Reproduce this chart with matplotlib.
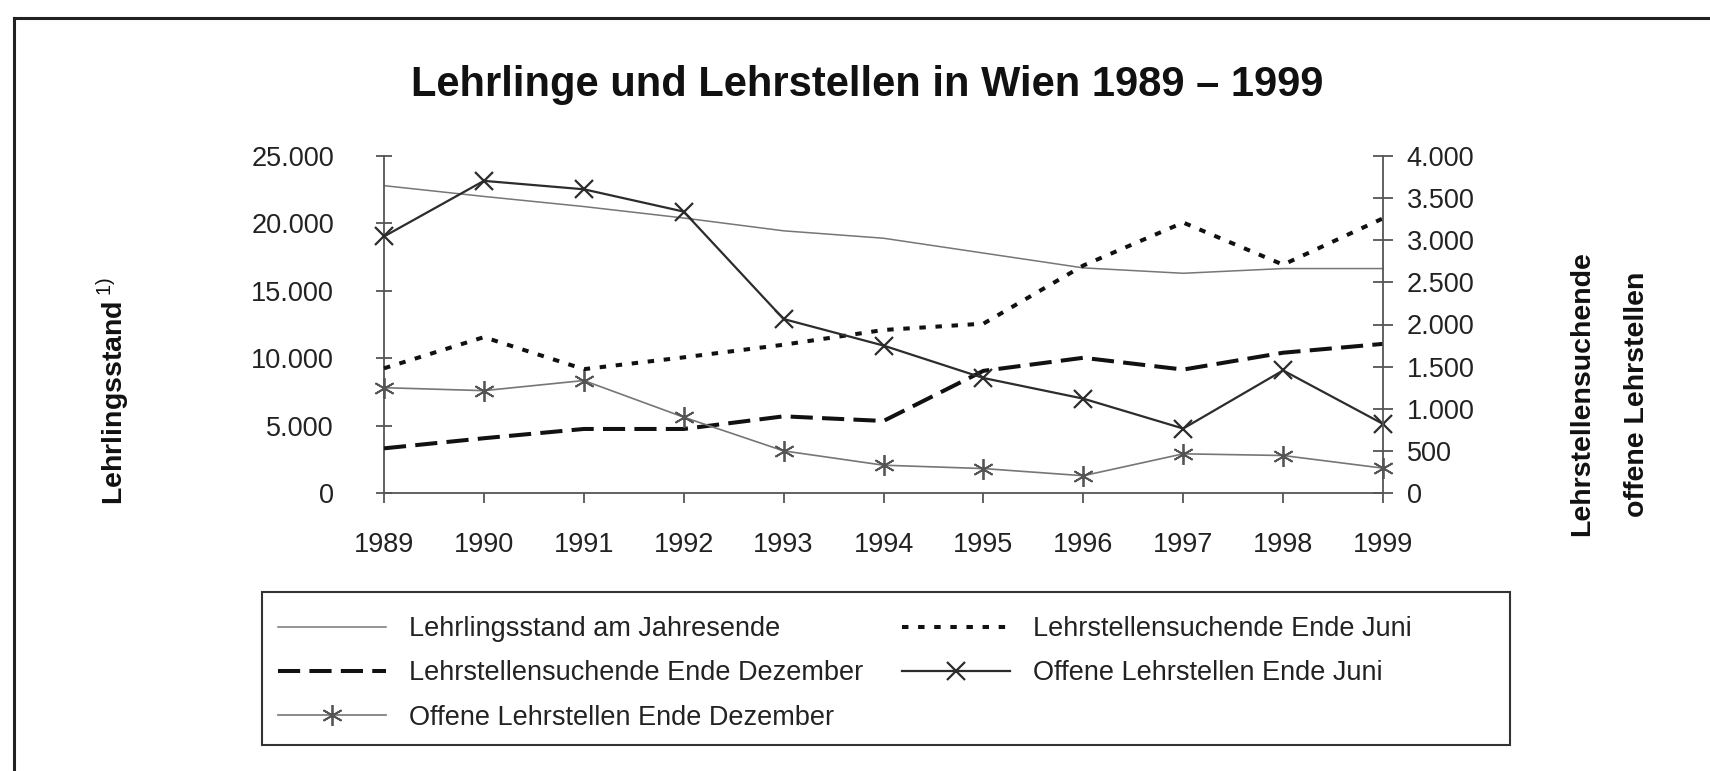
import matplotlib

matplotlib.use("Agg")
import matplotlib.pyplot as plt
from matplotlib.lines import Line2D
from matplotlib.patches import Rectangle
from matplotlib.ticker import FuncFormatter, MultipleLocator

plt.rcParams["font.family"] = ["Liberation Sans", "DejaVu Sans"]
plt.rcParams["mathtext.fontset"] = "custom"
plt.rcParams["mathtext.rm"] = "Liberation Sans"

years = list(range(1989, 2000))
lehrlingsstand = [22800, 22000, 21250, 20400, 19450, 18900, 17800, 16700, 16300, 16650, 16650]
suchende_juni = [1480, 1850, 1470, 1610, 1760, 1935, 2010, 2700, 3210, 2710, 3260]
suchende_dez = [530, 650, 760, 760, 910, 855, 1450, 1605, 1465, 1665, 1770]
offene_juni = [3045, 3705, 3605, 3340, 2065, 1750, 1365, 1120, 765, 1455, 820]
offene_dez = [1250, 1215, 1335, 900, 500, 330, 290, 205, 465, 445, 295]

labels = [
    "Lehrlingsstand am Jahresende",
    "Lehrstellensuchende Ende Juni",
    "Lehrstellensuchende Ende Dezember",
    "Offene Lehrstellen Ende Juni",
    "Offene Lehrstellen Ende Dezember",
]

W, H = 1710, 771
GRAY = "#767676"
DARK = "#2c2c2c"
TXT = "#222222"


def de_fmt(v, _pos):
    return f"{v:,.0f}".replace(",", ".")


fig = plt.figure(figsize=(W / 100, H / 100), dpi=100)
ax = fig.add_axes([384 / W, 1 - 493 / H, (1383 - 384) / W, (493 - 156) / H])
ax2 = ax.twinx()

l0, = ax.plot(years, lehrlingsstand, color=GRAY, lw=1.1, clip_on=False)
l1, = ax2.plot(years, suchende_juni, color="#111111", lw=2.9,
               ls=(0, (1.6, 2.4)), dash_capstyle="butt", clip_on=False)
l2, = ax2.plot(years, suchende_dez, color="#111111", lw=2.9,
               ls=(0, (5.5, 2.3)), dash_capstyle="butt", clip_on=False)
l3, = ax2.plot(years, offene_juni, color=DARK, lw=1.6, marker="x", ms=13,
               mew=1.6, clip_on=False)
l4, = ax2.plot(years, offene_dez, color=GRAY, lw=1.2, marker=(6, 2, 0), ms=15,
               mew=1.3, mec="#555555", clip_on=False)

ax.set_xlim(1989, 1999)
ax.set_ylim(0, 25000)
ax2.set_ylim(0, 4000)
ax.set_xticks(years)
ax.yaxis.set_major_locator(MultipleLocator(5000))
ax2.yaxis.set_major_locator(MultipleLocator(500))
ax.yaxis.set_major_formatter(FuncFormatter(de_fmt))
ax2.yaxis.set_major_formatter(FuncFormatter(de_fmt))

for a in (ax, ax2):
    a.set_facecolor("none")
    a.spines["top"].set_visible(False)
    for s in a.spines.values():
        s.set_color("#555555")
        s.set_linewidth(1.3)
ax.spines["right"].set_visible(False)
ax2.spines["left"].set_visible(False)
ax2.spines["bottom"].set_visible(False)

ax.tick_params(axis="x", direction="out", length=7, width=1.3, color="#555555",
               labelsize=19.5, labelcolor=TXT, pad=21)
ax.tick_params(axis="y", direction="inout", length=12, width=1.3, color="#555555",
               labelsize=19.5, labelcolor=TXT, pad=30)
ax2.tick_params(axis="y", direction="inout", length=14, width=1.3, color="#555555",
                labelsize=19.5, labelcolor=TXT, pad=10)

fig.text(867 / W, 1 - 85 / H, "Lehrlinge und Lehrstellen in Wien 1989 – 1999",
         ha="center", va="center", fontsize=30, fontweight="bold", color="#111111")
fig.text(113 / W, 1 - 391 / H, r"Lehrlingsstand$\,^{\mathrm{1)}}$", rotation=90,
         ha="center", va="center", fontsize=20.5, fontweight="bold", color="#111111")
fig.text(1582 / W, 1 - 394 / H, "Lehrstellensuchende", rotation=90,
         ha="center", va="center", fontsize=20.5, fontweight="bold", color="#111111")
fig.text(1637 / W, 1 - 394 / H, "offene Lehrstellen", rotation=90,
         ha="center", va="center", fontsize=20.5, fontweight="bold", color="#111111")

# legend: own frame, entries without frame
fig.patches.append(Rectangle((262 / W, 1 - 745 / H), (1510 - 262) / W, (745 - 592) / H,
                             transform=fig.transFigure, fill=False,
                             edgecolor="#333333", lw=1.5))
leg = fig.legend([l0, l2, l4, l1, l3],
                 [labels[0], labels[2], labels[4], labels[1], labels[3]],
                 ncol=2, loc="upper left", bbox_to_anchor=(278 / W, 1 - 616 / H),
                 frameon=False, borderpad=0, borderaxespad=0, fontsize=19.5,
                 handlelength=4.0, handletextpad=0.85, columnspacing=1.4,
                 labelspacing=0.68)
for t in leg.get_texts():
    t.set_color(TXT)

# outer frame lines
fig.add_artist(Line2D([14 / W, 1], [1 - 18 / H, 1 - 18 / H], transform=fig.transFigure,
                      color="#222222", lw=2.2))
fig.add_artist(Line2D([14 / W, 14 / W], [0, 1 - 18 / H], transform=fig.transFigure,
                      color="#222222", lw=2.2))

fig.savefig("out.png", dpi=100)
